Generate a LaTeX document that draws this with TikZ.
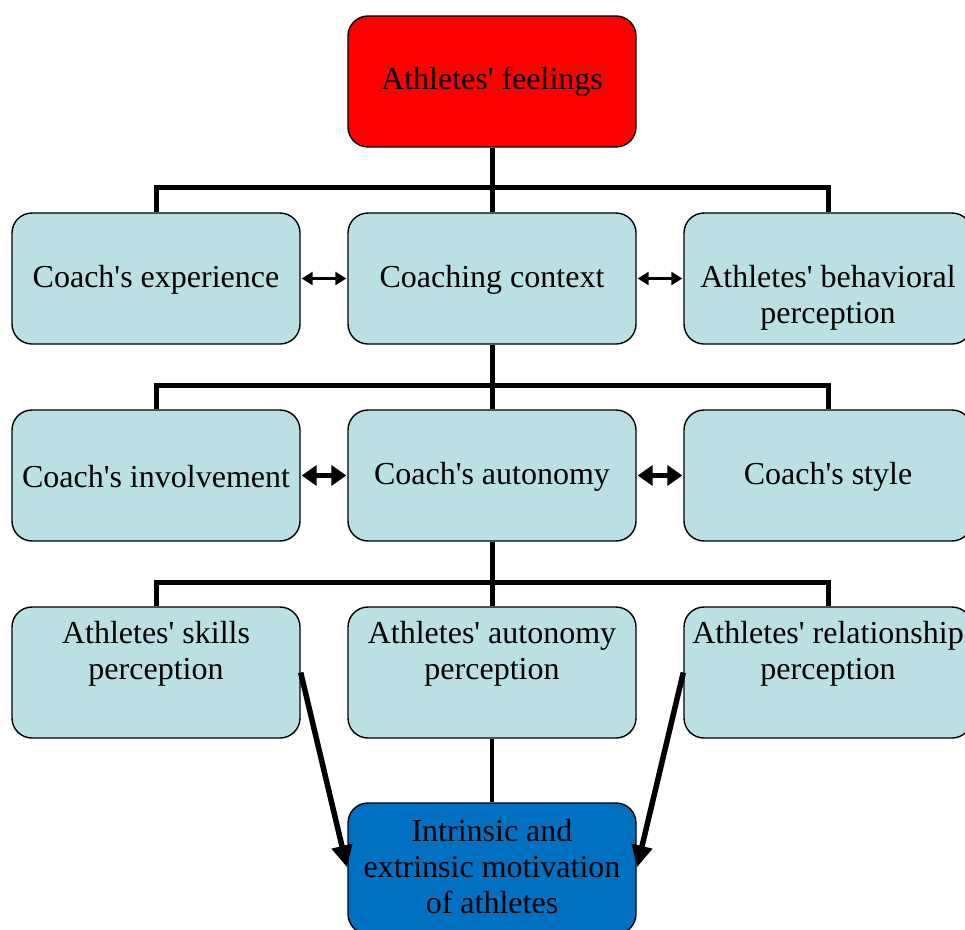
\documentclass[tikz,border=0pt]{standalone}
\usepackage{fontspec}
\setmainfont{Liberation Serif}[Ligatures=TeXOff]
\usetikzlibrary{arrows.meta}
\definecolor{lightbox}{HTML}{BBE0E3}
\definecolor{topred}{HTML}{FF0000}
\definecolor{botblue}{HTML}{0070C0}
\begin{document}
\begin{tikzpicture}[x=1pt,y=-1pt,
  box/.style={draw=black, line width=1.4pt, rounded corners=20pt, minimum width=288pt,
    minimum height=131pt, inner sep=0pt, align=center, fill=lightbox,
    font=\fontsize{32}{36}\selectfont},
  boxtext/.style={inner sep=0pt, align=center, font=\fontsize{32}{36}\selectfont},
  bus/.style={line width=5pt},
  link/.style={line width=2.5pt, {Triangle[length=11pt,width=13pt]}-{Triangle[length=11pt,width=13pt]}, shorten <=1pt, shorten >=1pt},
  boldlink/.style={line width=5pt, {Triangle[length=15pt,width=20pt]}-{Triangle[length=15pt,width=20pt]}, shorten <=1pt, shorten >=1pt},
  diag/.style={line width=5.5pt, -{Triangle[length=22pt,width=20pt]}, shorten >=1pt}
]
\useasboundingbox (0,0) rectangle (965,929);
\clip (0,0) rectangle (965,929);

% nodes
\node[box, fill=topred] (top) at (492,81.5) {Athletes' feelings};

\node[box] (l1) at (156,278.5) {};
\node[box] (c1) at (492,278.5) {};
\node[box] (r1) at (828,278.5) {};
\node[boxtext] (l1t) at ([yshift=-1.5pt]l1.center) {Coach's experience};
\node[boxtext] (c1t) at ([yshift=-1.5pt]c1.center) {Coaching context};
\node[boxtext] (r1t) at ([yshift=-19pt]r1.center) {Athletes' behavioral\\perception};

\node[box] (l2) at (156,475.5) {};
\node[box] (c2) at (492,475.5) {};
\node[box] (r2) at (828,475.5) {};
\node[boxtext] (l2t) at ([yshift=-1pt]l2.center) {Coach's involvement};
\node[boxtext] (c2t) at ([yshift=-1pt]c2.center) {Coach's autonomy};
\node[boxtext] (r2t) at ([yshift=-1pt]r2.center) {Coach's style};

\node[box] (l3) at (156,672.5) {};
\node[box] (c3) at (492,672.5) {};
\node[box] (r3) at (828,672.5) {};
\node[boxtext] (l3t) at ([yshift=19pt]l3.center) {Athletes' skills\\perception};
\node[boxtext] (c3t) at ([yshift=19pt]c3.center) {Athletes' autonomy\\perception};
\node[boxtext] (r3t) at ([yshift=19pt]r3.center) {Athletes' relationship\\perception};

\node[box, fill=botblue] (bot) at (492,868.5) {};
\node[boxtext] (bott) at ([yshift=2pt]bot.center) {Intrinsic and\\extrinsic motivation\\of athletes};

% bus connectors
\coordinate (b1) at (492,187);
\coordinate (b2) at (492,385);
\coordinate (b3) at (492,582);

\draw[bus] (top.south) -- (c1.north);
\draw[bus] (l1.north) |- (b1) -| (r1.north);

\draw[bus] (c1.south) -- (c2.north);
\draw[bus] (l2.north) |- (b2) -| (r2.north);

\draw[bus] (c2.south) -- (c3.north);
\draw[bus] (l3.north) |- (b3) -| (r3.north);

\draw[line width=4pt] (c3.south) -- (bot.north);

% horizontal double arrows
\draw[link] (l1.east) -- (c1.west);
\draw[link] (c1.east) -- (r1.west);
\draw[boldlink] (l2.east) -- (c2.west);
\draw[boldlink] (c2.east) -- (r2.west);

% diagonal arrows
\draw[diag] (l3.east) -- (bot.west);
\draw[diag] (r3.west) -- (bot.east);
\end{tikzpicture}
\end{document}
